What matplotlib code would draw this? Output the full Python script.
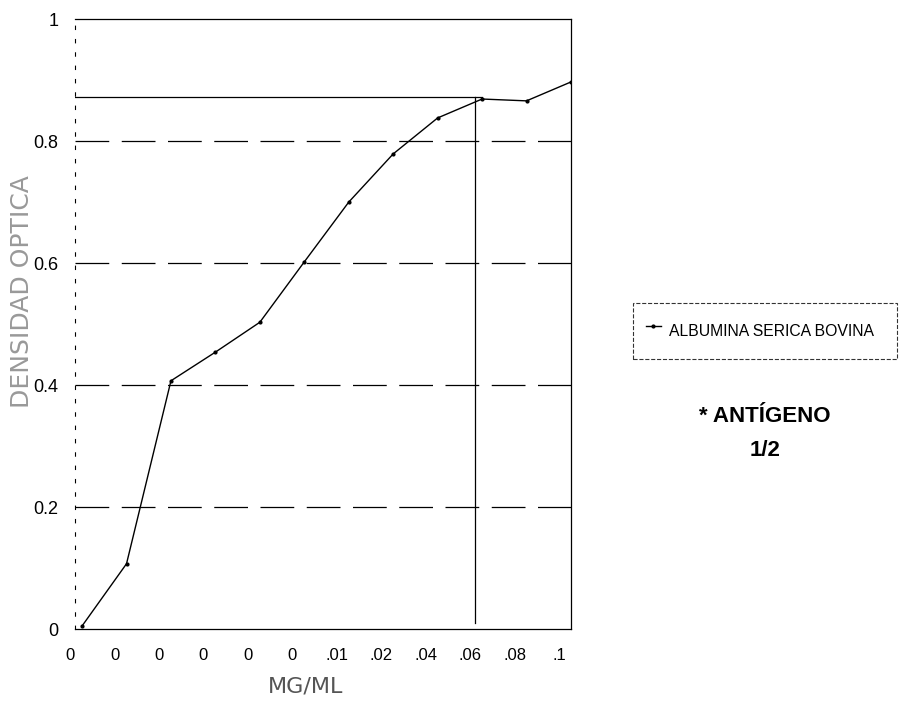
import matplotlib.pyplot as plt
from matplotlib.transforms import ScaledTranslation

# Absorbance curve (scanned chart, categorical x axis)
conc_labels = ["0", "0", "0", "0", "0", "0", ".01", ".02", ".04", ".06", ".08", ".1"]
absorbance = [0.005, 0.107, 0.407, 0.454, 0.503, 0.602, 0.700, 0.779, 0.838, 0.869, 0.866, 0.897]
y_ticks = [0, 0.2, 0.4, 0.6, 0.8, 1]
y_tick_labels = ["0", "0.2", "0.4", "0.6", "0.8", "1"]

# reading lines drawn on the chart
ref_level = 0.872
ref_index = 8.85
ref_end = 9

plt.rcParams["font.family"] = ["Liberation Sans", "DejaVu Sans"]

fig = plt.figure(figsize=(9.01, 7.01), dpi=100)
ax = fig.add_axes([0.0832, 0.1027, 0.5505, 0.870])

x = list(range(len(absorbance)))
ax.plot(x, absorbance, color="black", lw=1, marker=".", markersize=4,
        label="ALBUMINA SERICA BOVINA", zorder=3)

# dashed horizontal grid
for v in y_ticks[1:-1]:
    ax.axhline(v, color="black", lw=0.9, dashes=(27, 10), zorder=1)

xmin, xmax = -0.16, 11.0
ax.plot([xmin, ref_end], [ref_level, ref_level], color="black", lw=0.9)
ax.plot([ref_index, ref_index], [0.01, ref_level], color="black", lw=0.9)

ax.set_xlim(xmin, xmax)
ax.set_ylim(0, 1)

ax.spines["left"].set_linestyle((0, (3, 9)))
ax.spines["left"].set_linewidth(0.8)
for s in ["top", "right", "bottom"]:
    ax.spines[s].set_linewidth(0.9)

ax.set_yticks(y_ticks)
ax.set_yticklabels(y_tick_labels, fontsize=13)
ax.set_xticks(x)
ax.set_xticklabels(conc_labels, fontsize=12)
ax.tick_params(axis="both", length=0)
ax.tick_params(axis="y", pad=12)
ax.tick_params(axis="x", pad=14)
shift = ScaledTranslation(-0.12, 0, fig.dpi_scale_trans)
for lbl in ax.get_xticklabels():
    lbl.set_transform(lbl.get_transform() + shift)

fig.text(22 / 901, 1 - 292 / 701, "DENSIDAD OPTICA", rotation=90,
         ha="center", va="center", fontsize=18, color="#999999",
         family="DejaVu Sans")
fig.text(306 / 901, 1 - 687 / 701, "MG/ML", ha="center", va="center",
         fontsize=16, color="#555555", family="DejaVu Sans")

leg = ax.legend(loc="center", bbox_to_anchor=(633 / 901, 1 - 363 / 701, 264 / 901, 64 / 701),
                bbox_transform=fig.transFigure, mode="expand", fontsize=11.3,
                handlelength=1.0, handletextpad=0.5, handleheight=2.6,
                borderpad=0.8, borderaxespad=0, fancybox=False, frameon=True)
leg.get_frame().set_edgecolor("black")
leg.get_frame().set_linewidth(0.8)
leg.get_frame().set_linestyle("--")

fig.text(765 / 901, 1 - 417 / 701, "* ANTÍGENO", ha="center", va="center",
         fontsize=16, fontweight="bold")
fig.text(765 / 901, 1 - 450 / 701, "1/2", ha="center", va="center",
         fontsize=16, fontweight="bold")

fig.savefig("out.png", dpi=100)
